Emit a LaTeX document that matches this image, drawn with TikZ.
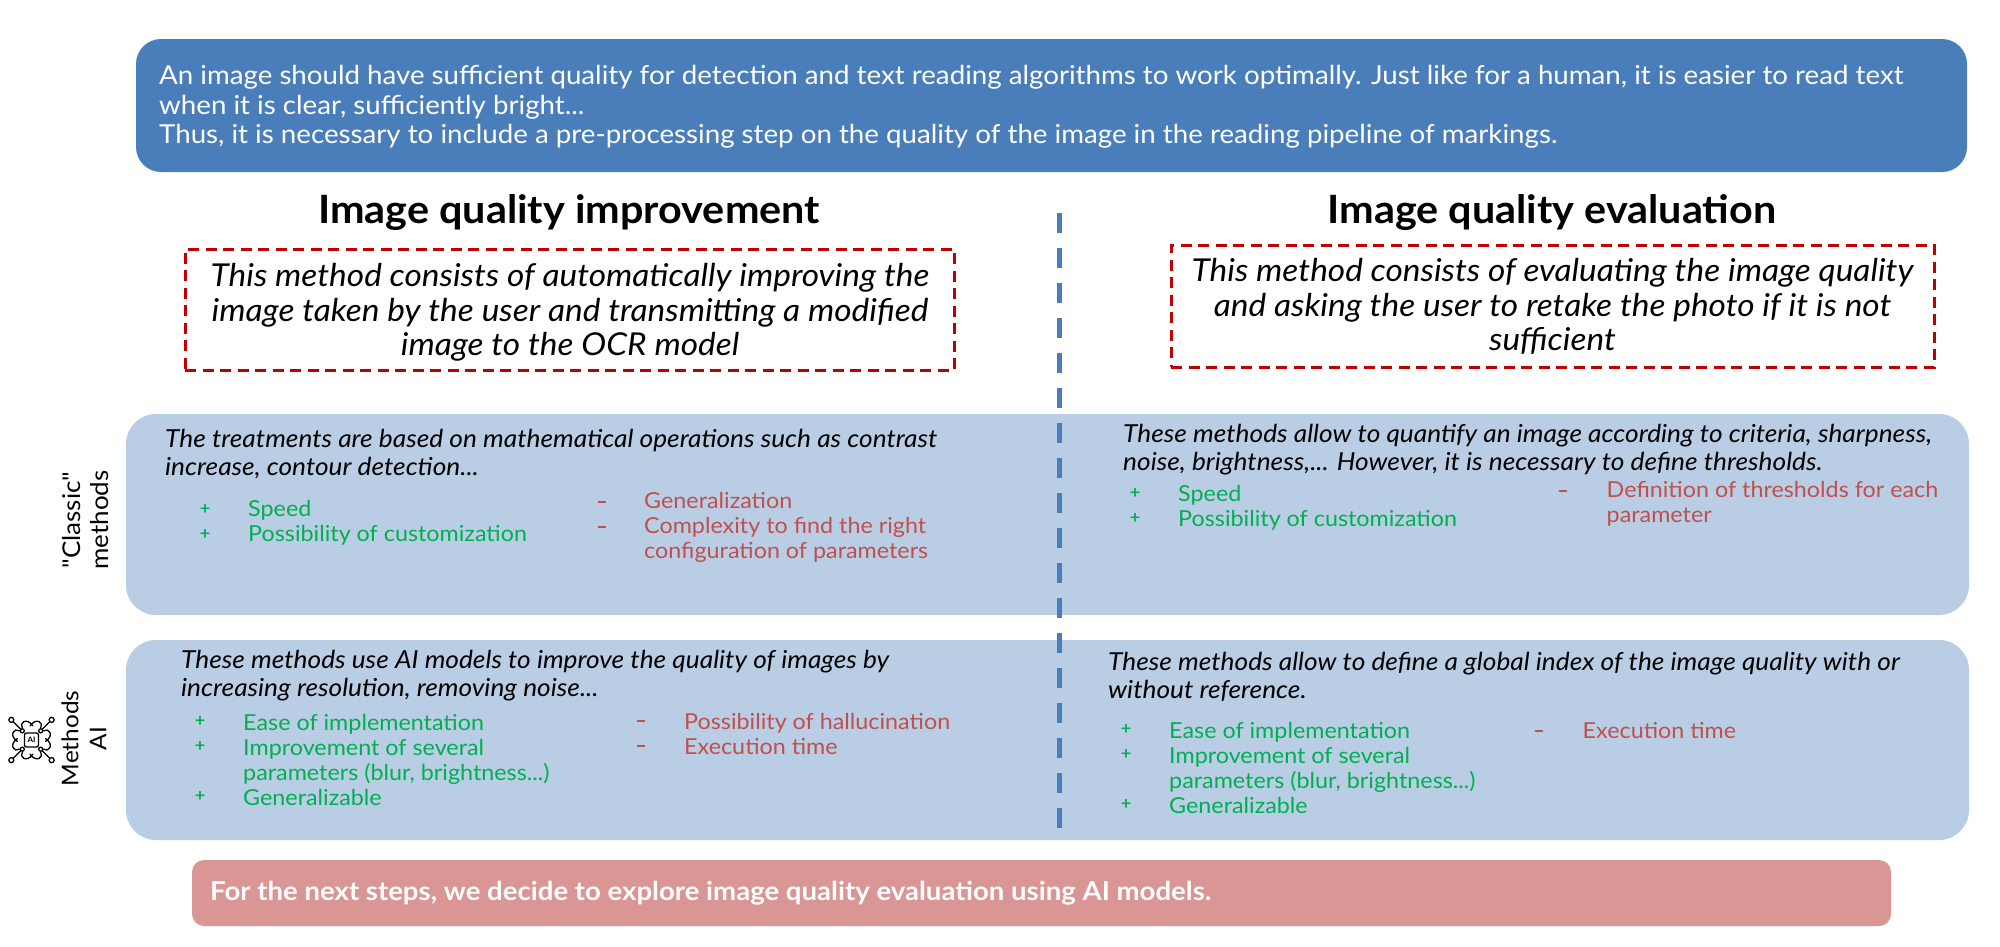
\documentclass[tikz,border=0pt]{standalone}
\usepackage{fontspec}
\setmainfont{Lato}[FakeStretch=1.06,Ligatures=TeXOff]
\definecolor{topblue}{HTML}{4A7EBB}
\definecolor{bandblue}{HTML}{B9CDE5}
\definecolor{closered}{HTML}{D99694}
\definecolor{progreen}{HTML}{00B050}
\definecolor{conred}{HTML}{C0504D}
\definecolor{dashred}{HTML}{C00000}
\tikzset{
  band/.style={fill=bandblue, rounded corners=30pt, minimum width=1843pt, inner sep=0pt},
  title/.style={font=\fontsize{39}{44}\selectfont\bfseries, inner sep=0pt},
  defbox/.style={draw=dashred, line width=3pt, dash pattern=on 11pt off 6.5pt, inner sep=0pt},
  deftext/.style={align=center, inner sep=0pt, font=\fontsize{31.5}{34.5}\selectfont\itshape},
  lead/.style={anchor=west, align=left, inner sep=0pt, font=\fontsize{24.8}{28}\selectfont\itshape},
  pro/.style={anchor=west, align=left, inner sep=0pt, text=progreen, font=\fontsize{22}{25}\selectfont},
  con/.style={anchor=west, align=left, inner sep=0pt, text=conred, font=\fontsize{22}{25}\selectfont},
  side/.style={rotate=90, align=center, inner sep=0pt, font=\fontsize{24.5}{28}\selectfont},
  wire/.style={line width=1.3pt, line cap=round}
}
\begin{document}
\begin{tikzpicture}[x=1pt,y=-1pt]
  \useasboundingbox (0,0) rectangle (2000,946);
  \node[fill=topblue, rounded corners=25pt, minimum width=1831pt, minimum height=133pt, inner sep=0pt] (intro) at (1051.5,105.5) {};
  \node[anchor=west, align=left, inner sep=0pt, text=white, font=\fontsize{26.12}{29.5}\selectfont] (introtext) at (159,107) {An image should have sufficient quality for detection and text reading algorithms to work optimally. Just like for a human, it is easier to read text\\when it is clear, sufficiently bright...\\Thus, it is necessary to include a pre-processing step on the quality of the image in the reading pipeline of markings.};
  \node[title] (left title) at (569,213) {Image quality improvement};
  \node[title] (right title) at (1552,213) {Image quality evaluation};
  \node[defbox, minimum width=769pt, minimum height=121pt] (left def) at (569.5,309.5) {};
  \node[deftext] (left deftext) at (570,312.5) {This method consists of automatically improving the\\image taken by the user and transmitting a modified\\image to the OCR model};
  \node[defbox, minimum width=763pt, minimum height=122pt] (right def) at (1552.5,306) {};
  \node[deftext] (right deftext) at (1552.5,306.5) {This method consists of evaluating the image quality\\and asking the user to retake the photo if it is not\\sufficient};
  \node[band, minimum height=201pt] (classic) at (1047.5,514.5) {};
  \node[band, minimum height=200pt] (ai) at (1047.5,740) {};
  \coordinate (split top) at (1059,213);
  \coordinate (split bottom) at (1059,830);
  \draw[topblue, line width=5pt, dash pattern=on 20pt off 15pt] (split top) -- (split bottom);
  \node[lead] (classic left) at (165,454.5) {The treatments are based on mathematical operations such as contrast\\increase, contour detection...};
  \node[pro] (classic left pro) at (248,522.5) {Speed\\Possibility of customization};
  \node[con] (classic left con) at (644,527) {Generalization\\Complexity to find the right\\configuration of parameters};
  \node[lead] (classic right) at (1123,450) {These methods allow to quantify an image according to criteria, sharpness,\\noise, brightness,... However, it is necessary to define thresholds.};
  \node[pro] (classic right pro) at (1178,507.5) {Speed\\Possibility of customization};
  \node[con] (classic right con) at (1606.5,503.5) {Definition of thresholds for each\\parameter};
  \node[lead] (ai left) at (181,675.5) {These methods use AI models to improve the quality of images by\\increasing resolution, removing noise...};
  \node[pro] (ai left pro) at (243,759.5) {Ease of implementation\\Improvement of several\\parameters (blur, brightness...)\\Generalizable};
  \node[con] (ai left con) at (684,733.5) {Possibility of hallucination\\Execution time};
  \node[lead] (ai right) at (1108,676.5) {These methods allow to define a global index of the image quality with or\\without reference.};
  \node[pro] (ai right pro) at (1169,767.5) {Ease of implementation\\Improvement of several\\parameters (blur, brightness...)\\Generalizable};
  \node[con] (ai right con) at (1582.5,731) {Execution time};
  \foreach \px/\py in {205/510, 205/535, 200/722, 200/747, 200/797, 1135/494, 1135/519, 1126/730, 1126/755, 1126/805}
    \node[text=progreen, inner sep=0pt, font=\fontsize{17}{17}\selectfont\bfseries] (plus \px-\py) at (\px,\py) {+};
  \foreach \mx/\my in {602/502, 602/527, 641/721, 641/746, 1563/491, 1539/731}
    \node[fill=conred, inner sep=0pt, minimum width=8pt, minimum height=2.4pt] (minus \mx-\my) at (\mx,\my) {};
  \node[side] (classic side) at (85.5,520) {"Classic"\\methods};
  \node[side, font=\fontsize{23}{28}\selectfont] (ai side) at (84,738.5) {Methods\\AI};
  \node[fill=closered, rounded corners=12pt, minimum width=1699pt, minimum height=66pt, inner sep=0pt] (next) at (1041.5,893) {};
  \node[anchor=west, inner sep=0pt, text=white, font=\fontsize{26}{30}\selectfont\bfseries] (nexttext) at (210,893.5) {For the next steps, we decide to explore image quality evaluation using AI models.};
  \node[draw, wire, rounded corners=2pt, minimum size=14pt, inner sep=0pt, font=\fontsize{7.5}{7.5}\selectfont\bfseries] (chip) at (31.5,740) {AI};
  \foreach \rot/\tag in {45/a, 135/b, 225/c, 315/d} {
    \begin{scope}[shift={(chip.center)}, rotate=\rot]
      \node[draw, wire, circle, minimum size=5pt, inner sep=0pt] (pin \tag) at (28.5,0) {};
      \node[draw, wire, circle, minimum size=4pt, inner sep=0pt] (pad \tag) at (13,0) {};
      \draw[wire] (pin \tag) -- (pad \tag);
      \draw[wire] (9,-11) .. controls (20,-13) and (21,-3) .. (15,-2);
      \draw[wire] (9,11) .. controls (20,13) and (21,3) .. (15,2);
    \end{scope}
  }
\end{tikzpicture}
\end{document}
